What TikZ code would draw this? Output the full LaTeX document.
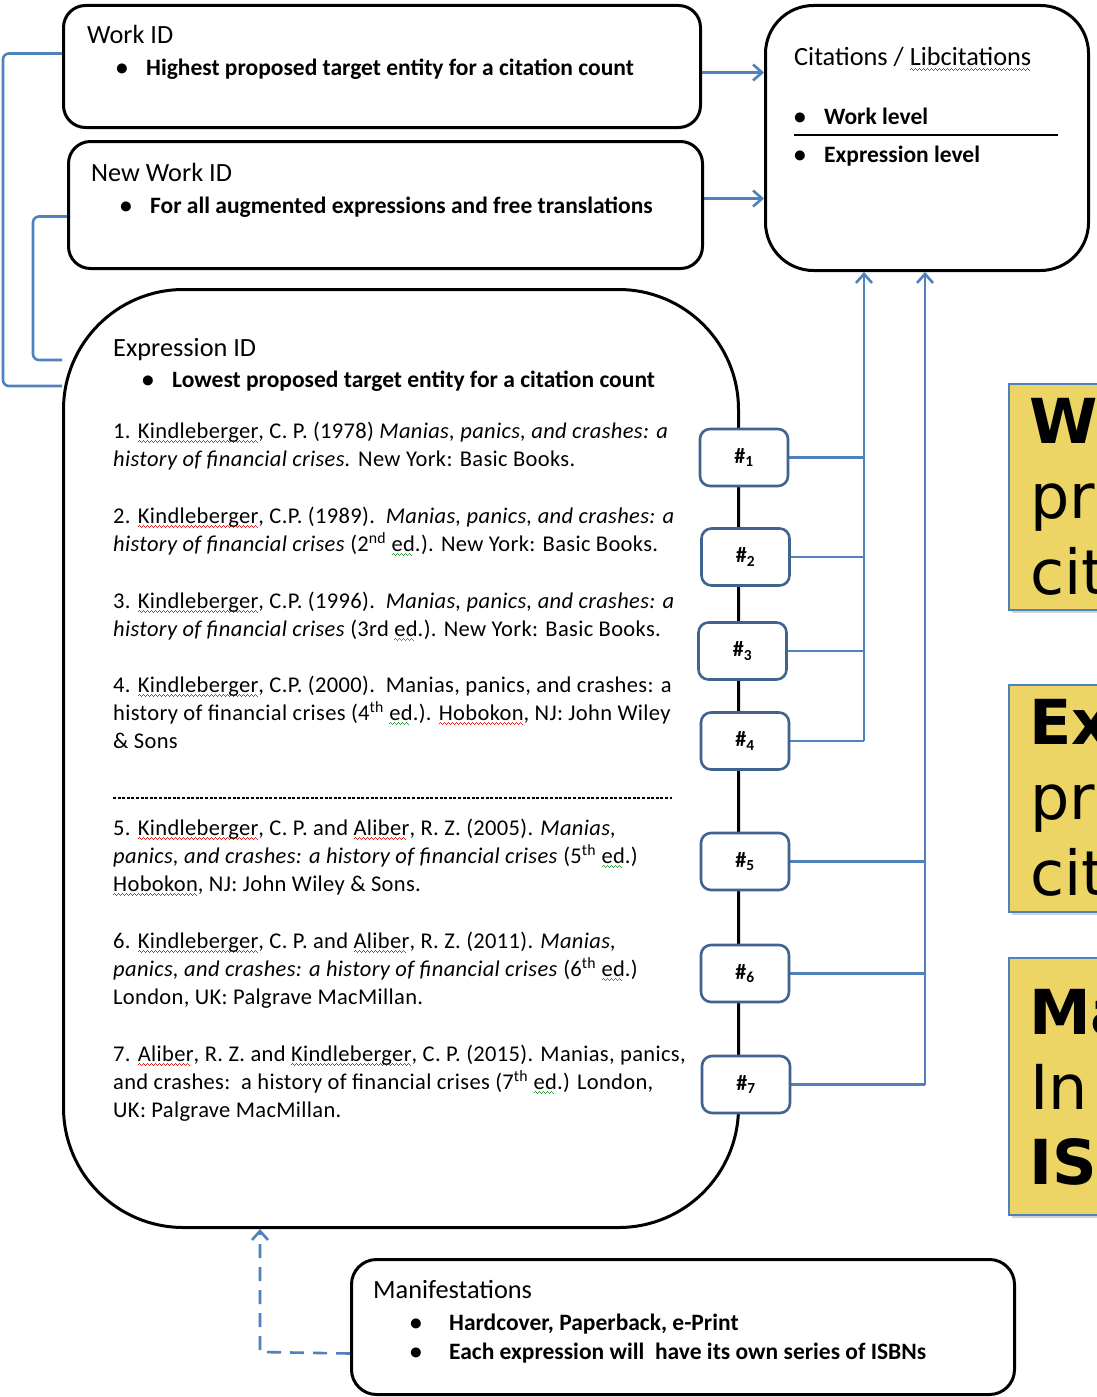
\documentclass[tikz,border=0pt]{standalone}
\usepackage{fontspec}
\setmainfont{Carlito}
\newfontfamily\reffont[LetterSpace=1.5]{Carlito}
\newfontfamily\notefont{DejaVu Sans}
\usetikzlibrary{arrows.meta,backgrounds,shadows}

\definecolor{linkblue}{HTML}{4F81BD}
\definecolor{tagblue}{HTML}{41638F}
\definecolor{notegold}{HTML}{EDD565}
\definecolor{spellred}{HTML}{E02424}
\definecolor{spellgreen}{HTML}{2E9E3E}

% wavy spell-check style underline built from tiny rules
\newcommand\sqwave[2]{\setbox0\hbox{#2}\leavevmode\rlap{\color{#1}\leaders\hbox{%
  \rule[-4pt]{1pt}{1.1pt}\rule[-3pt]{1pt}{1.1pt}\rule[-4pt]{1pt}{1.1pt}\rule[-5pt]{1pt}{1.1pt}}\hskip\wd0}\box0}
\newcommand\redsq[1]{\sqwave{spellred}{#1}}
\newcommand\greensq[1]{\sqwave{spellgreen}{#1}}

\begin{document}
\begin{tikzpicture}[x=1pt,y=-1pt,
  >={Straight Barb[length=9pt,width=16pt]},
  idbox/.style={draw=black, line width=3pt, fill=white, rounded corners=#1,
                anchor=north west, inner sep=0pt},
  tag/.style={draw=tagblue, line width=2.6pt, fill=white, rounded corners=10pt,
              minimum width=88pt, minimum height=57pt, inner sep=0pt,
              font=\fontsize{22}{26}\selectfont\bfseries},
  note/.style={draw=linkblue, line width=2pt, fill=notegold, anchor=north west,
               minimum width=110pt, inner sep=0pt,
               drop shadow={shadow xshift=3pt, shadow yshift=-3pt, opacity=0.35}},
  notetxt/.style={anchor=base west, inner sep=0pt, font=\notefont\fontsize{62}{70}\selectfont},
  lbl/.style={anchor=base west, inner sep=0pt},
  ttl/.style={font=\fontsize{26.3}{30}\selectfont},
  blt/.style={font=\fontsize{23.5}{29}\selectfont\bfseries},
  ref/.style={font=\reffont\fontsize{22.5}{28}\selectfont, align=left},
  link/.style={draw=linkblue, line width=2.6pt}]

\begin{pgfonlayer}{background}
  \fill[white] (0,0) rectangle (1096,1397);
\end{pgfonlayer}
\useasboundingbox (0,0) rectangle (1096,1397);

% ---- main boxes
\node[idbox=22pt, minimum width=637pt, minimum height=122pt] (work) at (62,4) {};
\node[idbox=22pt, minimum width=634pt, minimum height=127pt] (newwork) at (67,140) {};
\node[idbox=48pt, minimum width=323pt, minimum height=265pt] (cit) at (764,4) {};
\node[idbox=120pt, minimum width=675pt, minimum height=938pt] (expr) at (62,288) {};
\node[idbox=25pt, minimum width=663pt, minimum height=135pt] (manif) at (350,1258) {};

% ---- Work ID
\node[lbl, ttl] (workT) at (87,44) {Work ID};
\node[lbl, blt] (workB) at (116,76) {\makebox[30pt][l]{•}Highest proposed target entity for a citation count};

% ---- New Work ID
\node[lbl, ttl] (newT) at (91,181) {New Work ID};
\node[lbl, blt] (newB) at (120,213) {\makebox[30pt][l]{•}For all augmented expressions and free translations};

% ---- Citations
\node[lbl, ttl] (citT) at (794,66) {Citations / \redsq{Libcitations}};
\node[lbl, blt] (citW) at (794,124) {\makebox[30pt][l]{•}Work level};
\node[lbl, blt] (citE) at (794,162) {\makebox[30pt][l]{•}Expression level};
\coordinate (citL) at (794,135);
\coordinate (citR) at (1058,135);
\draw[line width=1.5pt] (citL) -- (citR);

% ---- Expression ID (reference nodes are anchored on their last baseline)
\node[lbl, ttl] (exprT) at (113,356) {Expression ID};
\node[lbl, blt] (exprB) at (142,387) {\makebox[30pt][l]{•}Lowest proposed target entity for a citation count};

\node[lbl, ref] (c1) at (113,466) {1. \redsq{Kindleberger}, C. P. (1978) \textit{Manias, panics, and crashes: a}\\
  \textit{history of financial crises.} New York: Basic Books.};
\node[lbl, ref] (c2) at (113,551) {2. \redsq{Kindleberger}, C.P. (1989).\ \ \textit{Manias, panics, and crashes: a}\\
  \textit{history of financial crises} (2\textsuperscript{nd} \greensq{ed}.). New York: Basic Books.};
\node[lbl, ref] (c3) at (113,636) {3. \redsq{Kindleberger}, C.P. (1996).\ \ \textit{Manias, panics, and crashes: a}\\
  \textit{history of financial crises} (3rd \greensq{ed}.). New York: Basic Books.};
\node[lbl, ref] (c4) at (113,748) {4. \redsq{Kindleberger}, C.P. (2000).\ \ Manias, panics, and crashes: a\\
  history of financial crises (4\textsuperscript{th} \greensq{ed}.). \redsq{Hobokon}, NJ: John Wiley\\
  \& Sons};

\coordinate (sepL) at (113,798);
\coordinate (sepR) at (672,798);
\draw[line width=1.1pt, dash pattern=on 3pt off 1.6pt] (sepL) -- (sepR);

\node[lbl, ref] (c5) at (113,891) {5. \redsq{Kindleberger}, C. P. and \redsq{Aliber}, R. Z. (2005). \textit{Manias,}\\
  \textit{panics, and crashes: a history of financial crises} (5\textsuperscript{th} \greensq{ed}.)\\
  \redsq{Hobokon}, NJ: John Wiley \& Sons.};
\node[lbl, ref] (c6) at (113,1004) {6. \redsq{Kindleberger}, C. P. and \redsq{Aliber}, R. Z. (2011). \textit{Manias,}\\
  \textit{panics, and crashes: a history of financial crises} (6\textsuperscript{th} \greensq{ed}.)\\
  London, UK: Palgrave MacMillan.};
\node[lbl, ref] (c7) at (113,1117) {7. \redsq{Aliber}, R. Z. and \redsq{Kindleberger}, C. P. (2015). Manias, panics,\\
  and crashes:\ \ a history of financial crises (7\textsuperscript{th} \greensq{ed}.) London,\\
  UK: Palgrave MacMillan.};

% ---- number tags on the expression box edge
\node[tag] (t1) at (744,457.5) {\#\textsubscript{1}};
\node[tag] (t2) at (745.5,557) {\#\textsubscript{2}};
\node[tag] (t3) at (742.5,651) {\#\textsubscript{3}};
\node[tag] (t4) at (745,741) {\#\textsubscript{4}};
\node[tag] (t5) at (745,861.5) {\#\textsubscript{5}};
\node[tag] (t6) at (745,973.5) {\#\textsubscript{6}};
\node[tag] (t7) at (746,1084.5) {\#\textsubscript{7}};

% ---- Manifestations
\node[lbl, ttl] (manT) at (373,1298) {Manifestations};
\node[lbl, blt] (manB1) at (410,1330) {\makebox[39pt][l]{•}Hardcover, Paperback, e-Print};
\node[lbl, blt] (manB2) at (410,1359) {\makebox[39pt][l]{•}Each expression will\ \ have its own series of ISBNs};

% ---- level notes on the right edge
\node[note, minimum height=226pt] (noteW) at (1008,383) {};
\node[note, minimum height=227pt] (noteE) at (1008,684) {};
\node[note, minimum height=257pt] (noteM) at (1008,957) {};
\node[notetxt] (nW1) at (1029,443) {\bfseries W};
\node[notetxt] (nW2) at (1030,518) {pr};
\node[notetxt] (nW3) at (1030,594) {cit};
\node[notetxt] (nE1) at (1029,744) {\bfseries Ex};
\node[notetxt] (nE2) at (1030,819) {pr};
\node[notetxt] (nE3) at (1030,895) {cit};
\node[notetxt] (nM1) at (1029,1034) {\bfseries Ma};
\node[notetxt] (nM2) at (1030,1109) {In};
\node[notetxt] (nM3) at (1029,1184) {\bfseries IS};

% ---- connectors
\coordinate (busA) at (864,300);
\coordinate (busB) at (925,300);
\coordinate (lbA) at (3,386);
\coordinate (lbB) at (33,360);
\coordinate (dashC) at (260,1352);

\begin{pgfonlayer}{background}
  \draw[link, ->] ([yshift=-6pt]work.east) -- ([yshift=-6pt]work.east -| cit.west);
  \draw[link, ->] ([yshift=6.5pt]newwork.east) -- ([yshift=6.5pt]newwork.east -| cit.west);

  \draw[link, rounded corners=6pt] ([yshift=13pt]work.west) -| (lbA) -- (lbA -| expr.west);
  \draw[link, rounded corners=6pt] ([yshift=-11.5pt]newwork.west) -| (lbB) -- (lbB -| expr.west);

  \foreach \t in {t1,t2,t3,t4} \draw[link] (\t.east) -- (\t.east -| busA);
  \draw[link, ->] (t4.east -| busA) -- (busA |- cit.south);
  \foreach \t in {t5,t6,t7} \draw[link] (\t.east) -- (\t.east -| busB);
  \draw[link, ->] (t7.east -| busB) -- (busB |- cit.south);

  \draw[link, dash pattern=on 14pt off 9pt, ->] ([yshift=-26.5pt]manif.west) -- (dashC) -- (dashC |- expr.south);
\end{pgfonlayer}
\end{tikzpicture}
\end{document}
